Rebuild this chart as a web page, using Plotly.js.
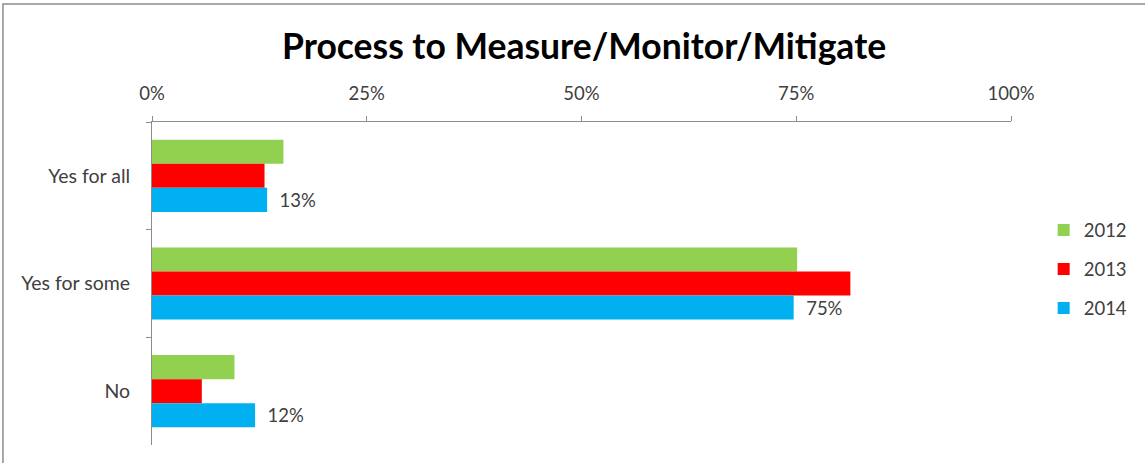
<!DOCTYPE html>
<html>
<head>
<meta charset="utf-8">
<script src="https://cdn.plot.ly/plotly-3.0.1.min.js"></script>
<style>
html,body{margin:0;padding:0;background:#fff;}
#chart{width:1145px;height:463px;}
</style>
</head>
<body>
<div id="chart"></div>
<script>
const categories = ["Yes for all", "Yes for some", "No"];
const seriesNames = ["2012", "2013", "2014"];
const values2012 = [15.3, 75.1, 9.6];
const values2013 = [13.1, 81.3, 5.8];
const values2014 = [13.4, 74.7, 12.0];
const tickVals = [0, 25, 50, 75, 100];
const tickLabels = ["0%", "25%", "50%", "75%", "100%"];
const colors = ["#92D050", "#FF0000", "#00B0F0"];

const font = "Lato, 'Open Sans', sans-serif";
const allValues = [values2012, values2013, values2014];

const traces = allValues.map((vals, i) => {
  const t = {
    type: "bar",
    orientation: "h",
    name: seriesNames[i],
    legendgroup: seriesNames[i],
    y: categories,
    x: vals,
    marker: {color: colors[i], line: {width: 0}},
    hoverinfo: "skip"
  };
  if (i === 2) {
    t.texttemplate = "&nbsp;&nbsp;%{x:.0f}%";
    t.textposition = "outside";
    t.cliponaxis = false;
    t.textfont = {family: font, size: 18.5, color: "#404040"};
  } else {
    t.textposition = "none";
  }
  return t;
});

const layout = {
  width: 1145,
  height: 463,
  paper_bgcolor: "#fff",
  plot_bgcolor: "#fff",
  margin: {l: 152, r: 134, t: 122, b: 18, pad: 0},
  barmode: "group",
  bargap: 0.33,
  bargroupgap: 0,
  title: {
    text: "<b>Process to Measure/Monitor/Mitigate</b>",
    font: {family: font, size: 35.5, color: "#000"},
    x: 0.503, xref: "paper", xanchor: "center",
    y: 0.90, yref: "container", yanchor: "middle"
  },
  xaxis: {
    side: "top",
    range: [0, 100],
    tickvals: tickVals,
    ticktext: tickLabels,
    showgrid: false,
    zeroline: false,
    showline: true,
    linecolor: "#8C8C8C",
    linewidth: 1,
    ticks: "outside",
    ticklen: 5,
    tickcolor: "#8C8C8C",
    ticklabelstandoff: 9,
    tickfont: {family: font, size: 18.5, color: "#404040"},
    automargin: false,
    fixedrange: true
  },
  yaxis: {
    type: "category",
    autorange: "reversed",
    showgrid: false,
    zeroline: false,
    showline: true,
    linecolor: "#8C8C8C",
    linewidth: 1,
    ticks: "outside",
    tickson: "boundaries",
    ticklen: 5,
    tickcolor: "#8C8C8C",
    ticklabelstandoff: 17,
    tickfont: {family: font, size: 19.5, color: "#404040"},
    automargin: false,
    fixedrange: true
  },
  showlegend: true,
  legend: {
    xref: "container", yref: "container",
    x: 0.9115, xanchor: "left",
    y: 0.418, yanchor: "middle",
    traceorder: "grouped",
    tracegroupgap: 12,
    font: {family: font, size: 18.5, color: "#404040"},
    bgcolor: "rgba(0,0,0,0)"
  },
  shapes: [{
    type: "rect", xref: "paper", yref: "paper",
    x0: -0.1735, x1: 1.3, y0: -0.2, y1: 1.365,
    line: {color: "#8C8C8C", width: 1.5},
    fillcolor: "rgba(0,0,0,0)",
    layer: "below"
  }]
};

Plotly.newPlot("chart", traces, layout, {displayModeBar: false, staticPlot: true});
</script>
</body>
</html>
